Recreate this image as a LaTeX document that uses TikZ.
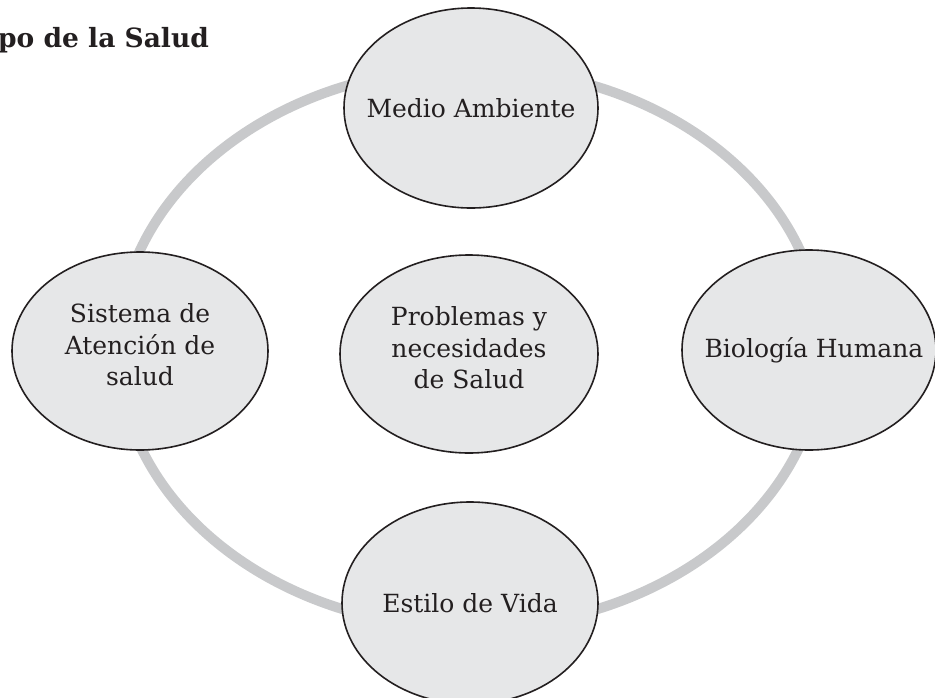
\documentclass[tikz,border=0pt]{standalone}
\usepackage{fontspec}
\setmainfont{DejaVu Serif}
\usetikzlibrary{shapes.geometric}
\definecolor{anillo}{HTML}{C8C9CB}
\definecolor{relleno}{HTML}{E6E7E8}
\definecolor{tinta}{HTML}{231F20}
\begin{document}
\begin{tikzpicture}[x=1pt,y=-1pt,line join=round,
    elipse/.style={ellipse,draw=tinta,line width=1.6pt,fill=relleno,inner sep=0pt,minimum width=254pt,minimum height=200pt},
    texto/.style={align=center,text=tinta,inner sep=0pt,font=\fontsize{25}{31.5}\selectfont}]
            \useasboundingbox (0,0) rectangle (935,697);
            \node[anchor=base west,text=tinta,inner sep=0pt,font=\fontsize{26.5}{32}\selectfont\bfseries] (titulo) at (-2,47) {po de la Salud};
            \draw[anillo,line width=10pt] (470,348) ellipse[x radius=352,y radius=280];
            \node[elipse] (medio) at (471,108) {};
            \node[elipse,minimum width=256pt,minimum height=198pt] (sistema) at (140,351) {};
            \node[elipse,minimum width=258pt,minimum height=198pt] (problemas) at (469,354) {};
            \node[elipse] (biologia) at (809,350) {};
            \node[elipse,minimum width=256pt,minimum height=202pt] (estilo) at (470,603) {};
            %\node[texto] at (470,348) {};
            \node[texto] (medio-t) at (medio) {Medio Ambiente};
            \node[texto] (sistema-t) at ([yshift=6pt]sistema.center) {Sistema de\\Atención de\\salud};
            \node[texto] (problemas-t) at ([yshift=6pt]problemas.center) {Problemas y\\necesidades\\de Salud};
            \node[texto] (biologia-t) at ([xshift=5pt]biologia.center) {Biología Humana};
            \node[texto] (estilo-t) at (estilo) {Estilo de Vida};
        \end{tikzpicture}
\end{document}
